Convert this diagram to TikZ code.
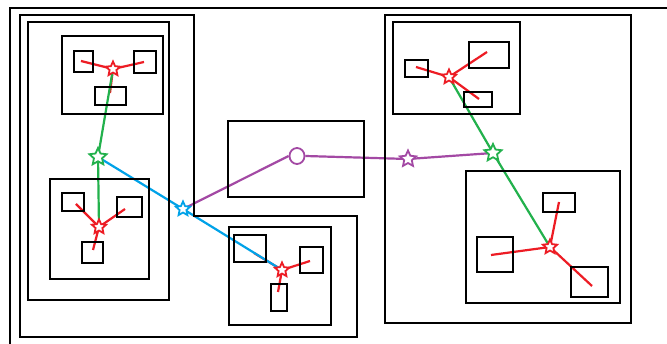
\documentclass[tikz,border=0pt]{standalone}
\usetikzlibrary{shapes.geometric}
\definecolor{pred}{HTML}{ED1C24}
\definecolor{pgreen}{HTML}{22B14C}
\definecolor{pblue}{HTML}{00A2E8}
\definecolor{ppurple}{HTML}{A349A4}
\pgfdeclarelayer{bg}
\pgfdeclarelayer{wires}
\pgfsetlayers{bg,wires,main}
\begin{document}
\begin{tikzpicture}[x=1pt,y=-1pt,
  frame/.style={draw=black,line width=2.6pt},
  box/.style={draw=black,line width=2.4pt},
  wire/.style={line width=2.2pt},
  starnode/.style={star,star points=5,star point ratio=2.1,inner sep=0pt,
    minimum size=#1,fill=white,line width=1.8pt},
  redstar/.style={starnode=15pt,draw=pred},
  greenstar/.style={starnode=18pt,draw=pgreen},
  bluestar/.style={starnode=15pt,draw=pblue},
  purplestar/.style={starnode=17pt,draw=ppurple}]
\begin{pgfonlayer}{bg}
  \fill[white] (0,0) rectangle (667,344);
\end{pgfonlayer}
\useasboundingbox (0,0) rectangle (667,344);

% outermost open frame
\draw[frame] (10,344) -- (10,8) -- (667,8);
% L-shaped frame around the left column and the lower middle box
\draw[frame] (20,15) -- (194,15) -- (194,216) -- (357,216) -- (357,337) -- (20,337) -- cycle;
% left column
\draw[frame] (28,22) rectangle (169,300);
% right column
\draw[frame] (385,15) rectangle (631,323);

% top-left group
\draw[box] (62,36) rectangle (163,114);
\draw[box] (74,51) rectangle (93,72);
\draw[box] (134,51) rectangle (156,73);
\draw[box] (95,87) rectangle (126,105);
\node[redstar] (rA) at (113,69) {};
\coordinate (rA1) at (81,61);
\coordinate (rA2) at (144,62);
\coordinate (rA3) at (110,93);

% bottom-left group
\draw[box] (50,179) rectangle (149,279);
\draw[box] (62,193) rectangle (84,211);
\draw[box] (117,197) rectangle (142,217);
\draw[box] (82,242) rectangle (103,263);
\node[redstar] (rB) at (99,227) {};
\coordinate (rB1) at (76,204);
\coordinate (rB2) at (125,209);
\coordinate (rB3) at (93,250);

% lower middle group
\draw[box] (229,227) rectangle (331,325);
\draw[box] (234,235) rectangle (266,262);
\draw[box] (300,247) rectangle (323,273);
\draw[box] (271,284) rectangle (287,311);
\node[redstar] (rC) at (282,270) {};
\coordinate (rC1) at (254,253);
\coordinate (rC2) at (310,261);
\coordinate (rC3) at (278,292);

% upper middle box with the ring
\draw[box] (228,121) rectangle (364,197);
\node[ellipse,draw=ppurple,line width=1.8pt,fill=white,minimum width=15pt,
  minimum height=16pt,inner sep=0pt] (ring) at (297,156) {};

% top-right group
\draw[box] (393,22) rectangle (520,114);
\draw[box] (405,60) rectangle (428,77);
\draw[box] (469,42) rectangle (509,68);
\draw[box] (464,92) rectangle (492,107);
\node[redstar] (rD) at (449,77) {};
\coordinate (rD1) at (416,67);
\coordinate (rD2) at (487,52);
\coordinate (rD3) at (479,99);

% bottom-right group
\draw[box] (466,171) rectangle (620,303);
\draw[box] (543,193) rectangle (575,212);
\draw[box] (477,237) rectangle (513,272);
\draw[box] (571,267) rectangle (608,297);
\node[redstar] (rE) at (550,247) {};
\coordinate (rE1) at (559,202);
\coordinate (rE2) at (491,255);
\coordinate (rE3) at (592,286);

% hubs
\node[greenstar] (gL) at (98,157) {};
\node[greenstar] (gR) at (493,153) {};
\node[bluestar] (bM) at (183,209) {};
\node[purplestar] (pM) at (408,159) {};

\begin{pgfonlayer}{wires}
  \foreach \s in {rA,rB,rC,rD,rE}
    \foreach \k in {1,2,3}
      \draw[wire,pred] (\s.center) -- (\s\k);
  \draw[wire,pgreen] (rA.center) -- (gL.center) -- (rB.center);
  \draw[wire,pgreen] (rD.center) -- (gR.center) -- (rE.center);
  \draw[wire,pblue] (gL.center) -- (bM.center) -- (rC.center);
  \draw[wire,ppurple] (bM.center) -- (ring.west);
  \draw[wire,ppurple] (ring.east) -- (pM.center) -- (gR.center);
\end{pgfonlayer}
\end{tikzpicture}
\end{document}
